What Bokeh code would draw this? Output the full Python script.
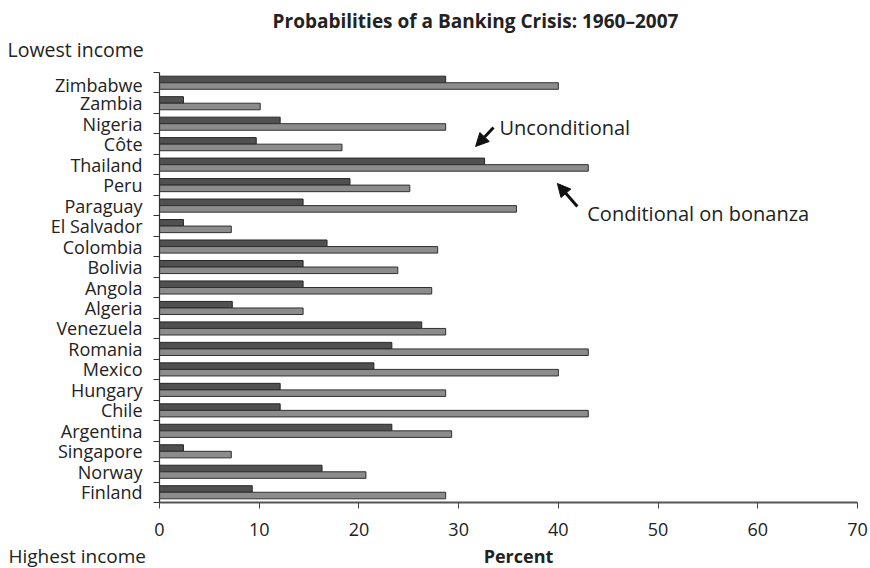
from bokeh.plotting import figure
from bokeh.layouts import column
from bokeh.models import (Range1d, FixedTicker, Label, Arrow, NormalHead, ColumnDataSource)
from bokeh.core.properties import value
from bokeh.embed import file_html
from bokeh.resources import INLINE

countries = ["Zimbabwe", "Zambia", "Nigeria", "Côte", "Thailand", "Peru", "Paraguay",
             "El Salvador", "Colombia", "Bolivia", "Angola", "Algeria", "Venezuela",
             "Romania", "Mexico", "Hungary", "Chile", "Argentina", "Singapore",
             "Norway", "Finland"]
unconditional = [28.7, 2.4, 12.1, 9.7, 32.6, 19.1, 14.4, 2.4, 16.8, 14.4, 14.4, 7.3,
                 26.3, 23.3, 21.5, 12.1, 12.1, 23.3, 2.4, 16.3, 9.3]
conditional = [40.0, 10.1, 28.7, 18.3, 43.0, 25.1, 35.8, 7.2, 27.9, 23.9, 27.3, 14.4,
               28.7, 43.0, 40.0, 28.7, 43.0, 29.3, 7.2, 20.7, 28.7]
x_ticks = [0, 10, 20, 30, 40, 50, 60, 70]

FONT = "Open Sans"
TXT = "#222222"
W = 870
TOP_H, MAIN_FRAME_H, MAIN_BOTTOM, BOT_H = 72, 430, 46, 20
SHIFT = 7   # rendered baseline sits this many px below the requested one


def text_strip(h):
    f = figure(width=W, height=h, x_range=Range1d(0, W), y_range=Range1d(h, 0),
               x_axis_type=None, y_axis_type=None, min_border=0,
               output_backend="svg", toolbar_location=None)
    f.frame_align = False
    f.outline_line_color = None
    f.background_fill_color = "white"
    f.border_fill_color = "white"
    return f


def put(f, x, y, text, size, bold=False, align="left"):
    f.text(x=[x], y=[y - SHIFT], text=[text], text_font=value(FONT), text_font_size=size,
           text_font_style="bold" if bold else "normal", text_align=align,
           text_baseline="alphabetic", text_color=TXT)


# ---- top strip: title and "Lowest income"
top = text_strip(TOP_H)
put(top, 475, 27, "Probabilities of a Banking Crisis: 1960\u20132007", "19px", bold=True, align="center")
put(top, 7, 56, "Lowest income", "19.5px")

# ---- main chart
n = len(countries)
pos = [n - 1 - i for i in range(n)]          # category index, bottom = 0
bar_h = 0.32
src = ColumnDataSource(dict(
    country=countries,
    unc=unconditional,
    cond=conditional,
    y_unc=[q + 1 - 0.18 - bar_h / 2 for q in pos],
    y_cond=[q + 1 - 0.50 - bar_h / 2 for q in pos],
))

p = figure(width=W, height=MAIN_FRAME_H + MAIN_BOTTOM,
           min_border_left=159, min_border_right=13,
           min_border_top=0, min_border_bottom=MAIN_BOTTOM,
           x_range=Range1d(0, 70), y_range=Range1d(0, n),
           output_backend="svg", toolbar_location=None)
p.frame_align = False
p.outline_line_color = None
p.xgrid.visible = False
p.ygrid.visible = False
p.background_fill_color = "white"
p.border_fill_color = "white"

p.hbar(y="y_unc", right="unc", left=0, height=bar_h, source=src,
       fill_color="#505050", line_color="#262626", line_width=1)
p.hbar(y="y_cond", right="cond", left=0, height=bar_h, source=src,
       fill_color="#8c8c8c", line_color="#303030", line_width=1)

xa = p.xaxis[0]
xa.ticker = FixedTicker(ticks=x_ticks)
xa.axis_line_color = "#555555"
xa.axis_line_width = 1.8
xa.major_tick_line_color = "#444444"
xa.major_tick_in = 0
xa.major_tick_out = 6
xa.minor_tick_line_color = None
xa.major_label_text_font = FONT
xa.major_label_text_font_size = "18px"
xa.major_label_text_color = TXT
xa.major_label_standoff = 14

ya = p.yaxis[0]
centres = [q + 0.5 for q in pos]
ya.ticker = FixedTicker(ticks=centres, minor_ticks=list(range(n + 1)))
ya.major_label_overrides = {c: name for c, name in zip(centres, countries)}
ya.axis_line_color = "#333333"
ya.axis_line_width = 1.2
ya.major_tick_line_color = None
ya.major_tick_in = 0
ya.major_tick_out = 0
ya.minor_tick_line_color = "#333333"
ya.minor_tick_in = 0
ya.minor_tick_out = 6
ya.major_label_text_font = FONT
ya.major_label_text_font_size = "18px"
ya.major_label_text_color = TXT
ya.major_label_standoff = 11

for txt, x, y in [("Unconditional", 34.1, 18.31), ("Conditional on bonanza", 42.9, 14.11)]:
    p.add_layout(Label(x=x, y=y, text=txt, text_font=FONT, text_font_size="20px",
                       text_baseline="middle", text_color=TXT))

p.add_layout(Arrow(x_start=33.5, y_start=18.31, x_end=31.7, y_end=17.39,
                   line_width=3, line_color="#111111",
                   end=NormalHead(size=13, fill_color="#111111", line_color="#111111")))
p.add_layout(Arrow(x_start=41.9, y_start=14.46, x_end=39.9, y_end=15.58,
                   line_width=3, line_color="#111111",
                   end=NormalHead(size=13, fill_color="#111111", line_color="#111111")))

# ---- bottom strip: "Highest income" and "Percent"
bot = text_strip(BOT_H)
put(bot, 8, 14, "Highest income", "19px")
put(bot, 518, 14, "Percent", "18px", bold=True, align="center")

layout = column(top, p, bot, spacing=0)
open("out.html", "w").write(file_html(layout, INLINE))
